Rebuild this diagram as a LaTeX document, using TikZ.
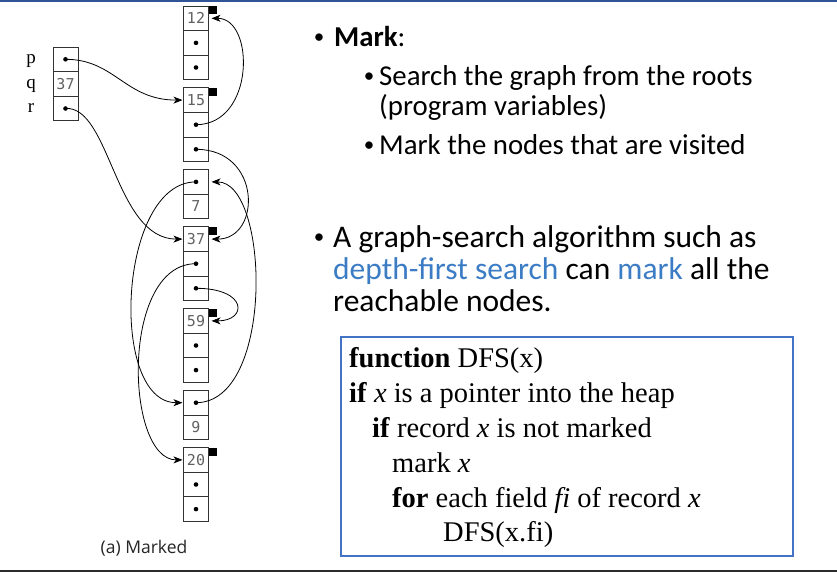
\documentclass[tikz,border=0pt]{standalone}
\usepackage{fontspec}
\setmainfont{Carlito}
\newfontfamily\timesf{Liberation Serif}
\newfontfamily\monof{DejaVu Sans Mono}
\newfontfamily\capf{Open Sans}
\usetikzlibrary{arrows.meta,positioning}
\definecolor{topblue}{HTML}{2F5597}
\definecolor{boxblue}{HTML}{4472C4}
\definecolor{linkblue}{HTML}{3B7CC4}
\definecolor{bottombar}{HTML}{2B2B2B}
\tikzset{
  cell/.style={draw=black!80, line width=0.9pt, minimum width=25pt, minimum height=24.6pt,
    inner sep=0pt, outer sep=0pt, font=\monof\fontsize{15}{15}\selectfont, text=black!62},
  ptr/.style={cell, path picture={\fill[black] (path picture bounding box.center) circle (2.3pt);}},
  link/.style={line width=0.8pt, black, -{Stealth[length=9pt,width=7pt,inset=2.5pt]}},
  markbox/.style={fill=black},
  txt/.style={anchor=base west, inner sep=0pt, font=\fontsize{28.8}{30}\selectfont},
  txtb/.style={anchor=base west, inner sep=0pt, font=\fontsize{31.5}{33}\selectfont},
  bul/.style={anchor=base, inner sep=0pt, font=\fontsize{21}{21}\selectfont},
  code/.style={anchor=base west, inner sep=0pt, font=\timesf\fontsize{28.5}{30}\selectfont},
  varlab/.style={anchor=base, inner sep=0pt, font=\fontsize{19}{19}\selectfont\timesf},
}
\begin{document}
\begin{tikzpicture}[x=1pt,y=-1pt]
\useasboundingbox (0,0) rectangle (837,572);
\fill[topblue] (0,0) rectangle (837,2);
\fill[bottombar] (0,569.5) rectangle (837,572);

% roots
\node[ptr] (rp) at (65.5,59.3) {};
\node[cell, below=0pt of rp] (rq) {37};
\node[ptr, below=0pt of rq] (rr) {};
\node[varlab] (lp) at (31,63.5) {p};
\node[varlab] (lq) at (31,88.5) {q};
\node[varlab] (lr) at (31,113) {r};

% heap records
\node[cell] (a1) at (196,18.3) {12};
\node[ptr, below=0pt of a1] (a2) {};
\node[ptr, below=0pt of a2] (a3) {};

\node[cell] (b1) at (196,100.1) {15};
\node[ptr, below=0pt of b1] (b2) {};
\node[ptr, below=0pt of b2] (b3) {};

\node[ptr] (c1) at (196,181.9) {};
\node[cell, below=0pt of c1] (c2) {7};

\node[cell] (d1) at (196,239.1) {37};
\node[ptr, below=0pt of d1] (d2) {};
\node[ptr, below=0pt of d2] (d3) {};

\node[cell] (e1) at (196,320.9) {59};
\node[ptr, below=0pt of e1] (e2) {};
\node[ptr, below=0pt of e2] (e3) {};

\node[ptr] (f1) at (196,402.7) {};
\node[cell, below=0pt of f1] (f2) {9};

\node[cell] (g1) at (196,459.9) {20};
\node[ptr, below=0pt of g1] (g2) {};
\node[ptr, below=0pt of g2] (g3) {};

% mark bits
\foreach \r in {a1,b1,d1,e1,g1}
  \fill[markbox] (\r.north east) rectangle ++(8.3,8.3);

% pointers
\draw[link] (rp.center) .. controls +(49.5,0) and +(-57.5,0) .. ([xshift=-1pt]b1.west);
\draw[link] (b2.center) .. controls +(59,0) and +(43.5,0) .. ([xshift=3pt]a1.east);
\draw[link] (b3.center) .. controls +(66,0) and +(50,0) .. ([xshift=3pt]d1.east);
\draw[link] (rr.center) .. controls +(44.5,-3) and +(-67.5,0) .. ([xshift=-1pt]d1.west);
\draw[link] (f1.center) .. controls +(79,0) and +(58,0) .. ([xshift=3pt]c1.east);
\draw[link] (c1.center) .. controls +(-78,0) and +(-74,0) .. ([xshift=-1pt]f1.west);
\draw[link] (d2.center) .. controls +(-76,0) and +(-57.5,0) .. ([xshift=-1pt]g1.west);
\draw[link] (d3.center) .. controls +(52,0) and +(36,0) .. ([xshift=3pt]e1.east);

\node[anchor=base, inner sep=0pt, font=\capf\fontsize{17.5}{18}\selectfont, text=black!85] (cap) at (144,553) {(a) Marked};

% bullet text
\node[bul] (bu1) at (319,43.5) {•};
\node[txt] (t1) at (334,47) {\textbf{Mark}:};
\node[bul] (bu2) at (369,82.5) {•};
\node[txt] (t2) at (379,86) {Search the graph from the roots};
\node[txt] (t3) at (379,116) {(program variables)};
\node[bul] (bu3) at (369,151.5) {•};
\node[txt] (t4) at (379,155) {Mark the nodes that are visited};
\node[bul] (bu4) at (319,243) {•};
\node[txtb] (t5) at (333,247) {A graph-search algorithm such as};
\node[txtb] (t6) at (333,279) {\textcolor{linkblue}{depth-first search} can \textcolor{linkblue}{mark} all the};
\node[txtb] (t7) at (333,311) {reachable nodes.};

% code box
\node[draw=boxblue, line width=2pt, minimum width=452pt, minimum height=219pt, inner sep=0pt, anchor=north west] (box) at (340,336) {};
\node[code] (c1l) at (349,367) {\textbf{function} DFS(x)};
\node[code] (c2l) at (349,402) {\textbf{if} \textit{x} is a pointer into the heap};
\node[code] (c3l) at (372,437) {\textbf{if} record \textit{x} is not marked};
\node[code] (c4l) at (392,472) {mark \textit{x}};
\node[code] (c5l) at (392,507) {\textbf{for} each field \textit{fi} of record \textit{x}};
\node[code] (c6l) at (443,541) {DFS(x.fi)};
\end{tikzpicture}
\end{document}
